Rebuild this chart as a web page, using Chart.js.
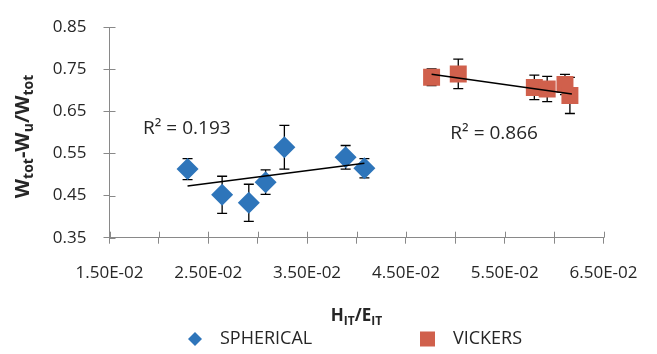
<!DOCTYPE html>
<html>
<head>
<meta charset="utf-8">
<script src="https://cdn.jsdelivr.net/npm/chart.js@4.4.1/dist/chart.umd.min.js"></script>
<style>
html, body { margin: 0; padding: 0; background: #fff; }
#wrap { width: 657px; height: 354px; position: relative; }
</style>
</head>
<body>
<div id="wrap"><canvas id="myChart"></canvas></div>
<script>
// spherical indenter
var sphericalX = [0.0229, 0.0264, 0.0291, 0.0308, 0.0327, 0.0389, 0.0408];
var sphericalY = [0.513, 0.452, 0.433, 0.482, 0.565, 0.541, 0.515];
var sphericalErr = [0.025, 0.044, 0.044, 0.029, 0.052, 0.028, 0.023];

// vickers indenter
var vickersX = [0.0476, 0.0503, 0.0580, 0.0593, 0.0611, 0.0616];
var vickersY = [0.731, 0.739, 0.707, 0.703, 0.714, 0.688];
var vickersErr = [0.020, 0.035, 0.029, 0.030, 0.024, 0.043];

// linear trend lines, start and end
var sphericalTrendX = [0.0229, 0.0408];
var sphericalTrendY = [0.473, 0.527];
var vickersTrendX = [0.0476, 0.0618];
var vickersTrendY = [0.7385, 0.6916];

var r2Text = ['R\u00b2 = 0.193', 'R\u00b2 = 0.866'];
var r2AtX = [0.0184, 0.0495];
var r2AtY = [0.610, 0.598];

var xTicks = [0.015, 0.020, 0.025, 0.030, 0.035, 0.040, 0.045, 0.050, 0.055, 0.060, 0.065];
var xTickLabels = ['1.50E-02', '', '2.50E-02', '', '3.50E-02', '', '4.50E-02', '', '5.50E-02', '', '6.50E-02'];
var yTicks = [0.35, 0.45, 0.55, 0.65, 0.75, 0.85];
var yTickLabels = ['0.35', '0.45', '0.55', '0.65', '0.75', '0.85'];

var seriesNames = ['SPHERICAL', 'VICKERS'];
var xTitle = [['H', 0], ['IT', 1], ['/E', 0], ['IT', 1]];
var yTitle = [['W', 0], ['tot', 1], ['-W', 0], ['u', 1], ['/W', 0], ['tot', 1]];

var BLUE = '#2E75BA';
var RED = '#D0604C';
var AXIS = '#898989';
var TEXT = '#262626';
var FONT = 'Open Sans';

function points(xs, ys) {
  return xs.map(function (x, i) { return { x: x, y: ys[i] }; });
}

function drawRich(ctx, parts, size, cx, baseY) {
  var subSize = Math.round(size * 0.68);
  var total = 0;
  parts.forEach(function (p) {
    ctx.font = 'bold ' + (p[1] ? subSize : size) + 'px "' + FONT + '"';
    total += ctx.measureText(p[0]).width;
  });
  var x = cx - total / 2;
  parts.forEach(function (p) {
    ctx.font = 'bold ' + (p[1] ? subSize : size) + 'px "' + FONT + '"';
    ctx.fillText(p[0], x, baseY + (p[1] ? size * 0.22 : 0));
    x += ctx.measureText(p[0]).width;
  });
}

var extras = {
  id: 'extras',
  beforeDatasetsDraw: function (chart) {
    var ctx = chart.ctx;
    var ys = chart.scales.y;
    var errs = [sphericalErr, vickersErr];
    ctx.save();
    ctx.strokeStyle = '#000';
    ctx.lineWidth = 1.3;
    [0, 1].forEach(function (di) {
      var meta = chart.getDatasetMeta(di);
      var vals = chart.data.datasets[di].data;
      meta.data.forEach(function (el, i) {
        var top = ys.getPixelForValue(vals[i].y + errs[di][i]);
        var bot = ys.getPixelForValue(vals[i].y - errs[di][i]);
        ctx.beginPath();
        ctx.moveTo(el.x, top); ctx.lineTo(el.x, bot);
        ctx.moveTo(el.x - 5, top); ctx.lineTo(el.x + 5, top);
        ctx.moveTo(el.x - 5, bot); ctx.lineTo(el.x + 5, bot);
        ctx.stroke();
      });
    });
    ctx.restore();
  },
  afterDraw: function (chart) {
    var ctx = chart.ctx;
    var xs = chart.scales.x, ys = chart.scales.y;
    var area = chart.chartArea;
    ctx.save();

    // tick marks crossing the axes
    ctx.strokeStyle = AXIS;
    ctx.lineWidth = 1;
    ctx.beginPath();
    xTicks.forEach(function (v) {
      var px = Math.round(xs.getPixelForValue(v)) + 0.5;
      ctx.moveTo(px, area.bottom); ctx.lineTo(px, area.bottom - 6);
    });
    yTicks.forEach(function (v) {
      var py = Math.round(ys.getPixelForValue(v)) + 0.5;
      ctx.moveTo(area.left, py); ctx.lineTo(area.left + 6, py);
    });
    ctx.stroke();

    ctx.fillStyle = TEXT;

    // R squared labels
    ctx.font = '19px "' + FONT + '"';
    ctx.textAlign = 'left';
    ctx.textBaseline = 'middle';
    r2Text.forEach(function (t, i) {
      ctx.fillText(t, xs.getPixelForValue(r2AtX[i]), ys.getPixelForValue(r2AtY[i]));
    });

    // axis titles
    ctx.textBaseline = 'alphabetic';
    ctx.textAlign = 'left';
    drawRich(ctx, xTitle, 17, (area.left + area.right) / 2, 321);
    ctx.save();
    ctx.translate(29, (area.top + area.bottom) / 2 + 4);
    ctx.rotate(-Math.PI / 2);
    drawRich(ctx, yTitle, 20, 0, 0);
    ctx.restore();

    // legend
    var ly = 339;
    ctx.fillStyle = BLUE;
    ctx.beginPath();
    ctx.moveTo(195, ly - 7); ctx.lineTo(202, ly); ctx.lineTo(195, ly + 7); ctx.lineTo(188, ly);
    ctx.closePath();
    ctx.fill();
    ctx.fillStyle = RED;
    ctx.fillRect(420, ly - 7.5, 15, 15);
    ctx.fillStyle = TEXT;
    ctx.font = '18px "' + FONT + '"';
    ctx.textBaseline = 'middle';
    ctx.fillText(seriesNames[0], 220, ly);
    ctx.fillText(seriesNames[1], 453, ly);

    ctx.restore();
  }
};

var ctx = document.getElementById('myChart').getContext('2d');
var myChart = new Chart(ctx, {
  type: 'scatter',
  data: {
    datasets: [{
      label: seriesNames[0],
      data: points(sphericalX, sphericalY),
      pointStyle: 'rectRot',
      pointRadius: 11,
      backgroundColor: BLUE,
      borderColor: BLUE,
      borderWidth: 0,
      order: 2
    }, {
      label: seriesNames[1],
      data: points(vickersX, vickersY),
      pointStyle: 'rect',
      pointRadius: 12,
      backgroundColor: RED,
      borderColor: RED,
      borderWidth: 0,
      order: 2
    }, {
      label: 'trend spherical',
      data: points(sphericalTrendX, sphericalTrendY),
      showLine: true,
      pointRadius: 0,
      borderColor: '#000',
      borderWidth: 1.5,
      order: 1
    }, {
      label: 'trend vickers',
      data: points(vickersTrendX, vickersTrendY),
      showLine: true,
      pointRadius: 0,
      borderColor: '#000',
      borderWidth: 1.5,
      order: 1
    }]
  },
  options: {
    responsive: true,
    maintainAspectRatio: false,
    animation: false,
    layout: { padding: { left: 0, right: 53.5, top: 16.7, bottom: 0 } },
    plugins: {
      legend: { display: false },
      tooltip: { enabled: false }
    },
    scales: {
      x: {
        type: 'linear',
        min: 0.015,
        max: 0.065,
        afterBuildTicks: function (s) { s.ticks = xTicks.map(function (v) { return { value: v }; }); },
        afterFit: function (s) { s.height = 116.3; },
        ticks: {
          autoSkip: false,
          maxRotation: 0,
          padding: 19,
          color: TEXT,
          font: { family: FONT, size: 17 },
          callback: function (v, i) { return xTickLabels[i]; }
        },
        grid: { drawOnChartArea: false, tickLength: 6, color: AXIS },
        border: { color: AXIS }
      },
      y: {
        type: 'linear',
        min: 0.35,
        max: 0.85,
        afterBuildTicks: function (s) { s.ticks = yTicks.map(function (v) { return { value: v }; }); },
        afterFit: function (s) { s.width = 109.5; },
        ticks: {
          padding: 17,
          color: TEXT,
          font: { family: FONT, size: 17 },
          callback: function (v, i) { return yTickLabels[i]; }
        },
        grid: { drawOnChartArea: false, tickLength: 6, color: AXIS },
        border: { color: AXIS }
      }
    }
  },
  plugins: [extras]
});
</script>
</body>
</html>
